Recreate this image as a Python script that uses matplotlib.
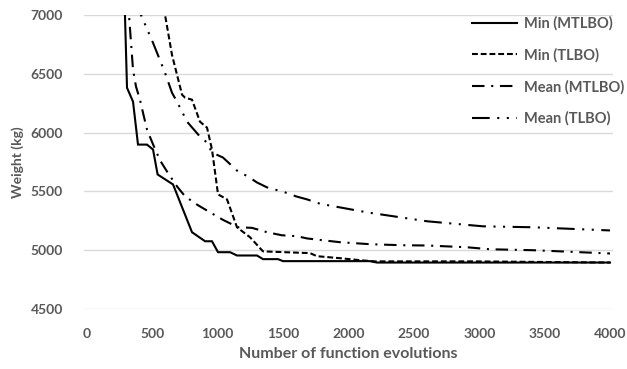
import matplotlib
matplotlib.use("Agg")
import matplotlib.pyplot as plt
from matplotlib import font_manager

# ---- data ----
min_mtlbo_x = [265, 306, 352, 390, 459, 505, 540, 658, 803, 903, 956, 1002, 1094, 1147, 1300,
               1346, 1461, 1499, 2164, 2218, 4000]
min_mtlbo_y = [8000, 6381, 6263, 5898, 5898, 5856, 5644, 5559, 5153, 5076, 5076, 4983, 4983, 4955, 4955,
               4924, 4924, 4907, 4907, 4895, 4895]

min_tlbo_x = [575, 597, 650, 727, 750, 803, 864, 918, 956, 1002, 1071, 1147, 1247, 1346, 1706, 1759,
              1935, 2088, 2200, 2950, 4000]
min_tlbo_y = [7200, 7000, 6661, 6322, 6297, 6280, 6093, 6042, 5856, 5475, 5432, 5195, 5110, 4990, 4975, 4949,
              4932, 4915, 4905, 4905, 4895]

mean_mtlbo_x = [305, 321, 352, 375, 405, 428, 459, 505, 558, 612, 690, 750, 845, 941, 1040, 1155, 1262,
                1377, 1490, 1606, 1683, 1935, 2164, 2417, 2600, 2906, 3082, 3411, 4000]
mean_mtlbo_y = [7200, 7000, 6534, 6390, 6280, 6170, 6025, 5900, 5765, 5669, 5540, 5458, 5385, 5322, 5258, 5195, 5190,
                5153, 5127, 5119, 5100, 5068, 5051, 5042, 5040, 5025, 5008, 5000, 4972]

mean_tlbo_x = [395, 413, 505, 597, 650, 688, 727, 765, 864, 918, 956, 1040, 1155, 1231, 1300, 1377, 1514,
               1598, 1683, 1782, 2141, 2600, 3029, 3411, 4000]
mean_tlbo_y = [7150, 7000, 6763, 6508, 6339, 6263, 6178, 6093, 5966, 5915, 5830, 5788, 5669, 5627, 5576, 5534, 5492,
               5458, 5432, 5395, 5322, 5246, 5203, 5195, 5168]

labels = ["Min (MTLBO)", "Min (TLBO)", "Mean (MTLBO)", "Mean (TLBO)"]
x_ticks = [0, 500, 1000, 1500, 2000, 2500, 3000, 3500, 4000]
y_ticks = [4500, 5000, 5500, 6000, 6500, 7000]

# ---- pick a family that really has a bold face ----
def pick_bold_family(prefs):
    for fam in prefs:
        for f in font_manager.fontManager.ttflist:
            w = f.weight
            if isinstance(w, str):
                w = 700 if "bold" in w.lower() else 400
            if f.name == fam and w >= 700 and f.style == "normal":
                return fam
    return "DejaVu Sans"

BOLD_FAM = pick_bold_family(["Lato", "Open Sans", "Roboto", "Noto Sans", "Liberation Sans"])
FONT = [BOLD_FAM, "DejaVu Sans"]
GRAY = "#595959"
plt.rcParams["font.family"] = FONT

fig = plt.figure(figsize=(6.27, 3.69), dpi=100)
ax = fig.add_axes([84 / 627, 1 - 309 / 369, (613 - 84) / 627, (309 - 15) / 369])

lw = 1.5
ax.plot(min_mtlbo_x, min_mtlbo_y, color="black", lw=lw, solid_joinstyle="miter", label=labels[0])
ax.plot(min_tlbo_x, min_tlbo_y, color="black", lw=lw, linestyle=(0, (2.8, 1.4)), label=labels[1])
ax.plot(mean_mtlbo_x, mean_mtlbo_y, color="black", lw=lw, linestyle=(0, (6.0, 3.2, 1.0, 3.2)),
        label=labels[2])
ax.plot(mean_tlbo_x, mean_tlbo_y, color="black", lw=lw,
        linestyle=(0, (8.5, 3.6, 1.0, 3.6, 1.0, 3.6)), label=labels[3])

ax.set_xlim(-23, 4023)
ax.set_ylim(4500, 7000)
ax.set_xticks(x_ticks)
ax.set_yticks(y_ticks)
ax.tick_params(length=0, labelcolor=GRAY, labelsize=10)
ax.tick_params(axis="y", pad=15)
ax.tick_params(axis="x", pad=14)
for lab in ax.get_xticklabels() + ax.get_yticklabels():
    lab.set_fontweight("bold")
    lab.set_family(FONT)

for s in ax.spines.values():
    s.set_visible(False)
ax.grid(axis="y", color="#d9d9d9", lw=1)
ax.set_axisbelow(True)

ax.set_xlabel("Number of function evolutions", fontsize=11.5, fontweight="bold", color=GRAY,
              labelpad=5, family=FONT)
ax.set_ylabel("Weight (kg)", fontsize=10, fontweight="bold", color=GRAY, labelpad=5, family=FONT)

leg = ax.legend(loc="upper left", bbox_to_anchor=(472 / 627, 1 - 16.5 / 369),
                bbox_transform=fig.transFigure, frameon=False, borderaxespad=0, borderpad=0,
                handlelength=3.1, handletextpad=0.5, labelspacing=1.17,
                prop={"family": FONT, "weight": "bold", "size": 10.5})
for t in leg.get_texts():
    t.set_color(GRAY)

fig.savefig("out.png", dpi=100)
